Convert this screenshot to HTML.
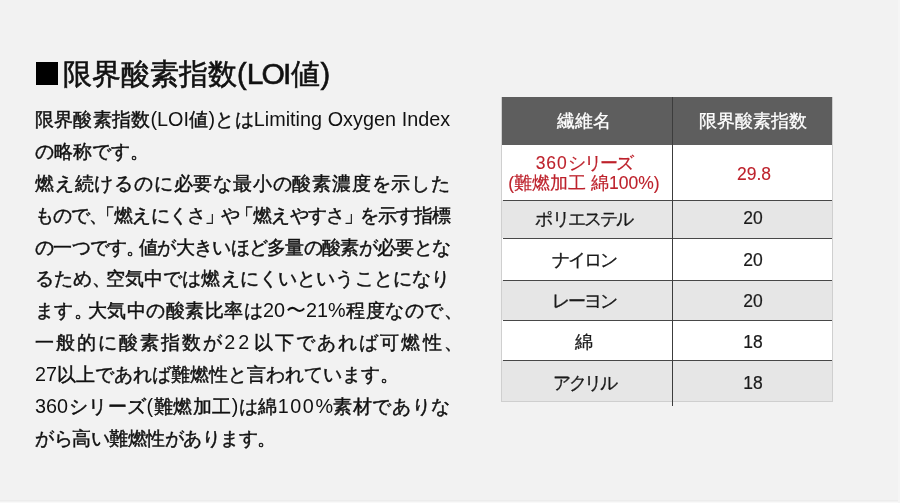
<!DOCTYPE html>
<html lang="ja">
<head>
<meta charset="utf-8">
<style>
*{margin:0;padding:0;box-sizing:border-box}
html,body{width:900px;height:503px;overflow:hidden}
body{background:#f2f2f2;font-family:"Liberation Sans",sans-serif;color:#1a1a1a;position:relative}
.sq{position:absolute;left:36px;top:62px;width:22px;height:23px;background:#000}
.ttl{position:absolute;left:63px;top:59px;font-size:29px;line-height:30px;white-space:nowrap;color:#111}
.txt{position:absolute;left:35px;top:103.5px;width:415px;font-size:19px;line-height:31.9px;color:#111}
.txt div{white-space:nowrap;height:31.9px}
.txt,.ttl,.c{-webkit-text-stroke:.45px currentColor;will-change:transform}
.ttl{-webkit-text-stroke-width:.6px}
.j{text-align:justify;text-align-last:justify}
.lat{font-size:19.8px;-webkit-text-stroke-width:0}
i{font-style:normal}
.r{margin-right:-.5em}
.l{margin-left:-.5em}
.r3{margin-right:-.3em}
.re{margin-right:-.66em}
.r1{margin-right:-.12em}
.l2{margin-left:-.2em}
.l3{margin-left:-.3em}
.tb{position:absolute;left:501px;top:97px;width:332px;height:305px;border-left:1px solid #cfcfcf;border-right:1px solid #cfcfcf;border-bottom:1px solid #cfcfcf}
.hd{position:absolute;left:502px;top:97px;width:330px;height:48px;background:#5e5e5e}
.row{position:absolute;left:502px;width:330px}
.w{background:#fff}.g{background:#e6e6e6}
.hl{position:absolute;left:503px;width:329px;height:1px;background:#484848}
.vl{position:absolute;left:672px;top:97px;width:1px;height:309px;background:#3c3c3c}
.c{position:absolute;font-size:17.5px;line-height:20px;text-align:center;white-space:nowrap;transform:translateX(-50%)}
.hdt{color:#fff}
.c{-webkit-text-stroke-width:.3px}
.n{-webkit-text-stroke-width:.2px}
.red{color:#bd212b;-webkit-text-stroke-width:.2px}
.red .n,.red.n{-webkit-text-stroke-width:.1px}
.hdt{-webkit-text-stroke-width:.3px}
</style>
</head>
<body>
<div style="position:absolute;left:0;top:500px;width:900px;height:1px;background:#ececec"></div>
<div style="position:absolute;left:0;top:502px;width:900px;height:1px;background:#f9f9f9"></div>
<div style="position:absolute;left:898px;top:0;width:2px;height:503px;background:#f5f5f5"></div>
<div class="sq"></div>
<div class="ttl">限界酸素指数(<span style="font-size:30px"><span style="letter-spacing:-1.8px">LO</span>I</span>値)</div>

<div class="txt">
<div class="j">限界酸素指数<span class="lat">(LOI</span>値<span class="lat">)</span>とは<span class="lat">Limiting Oxygen Index</span></div>
<div>の略称です<i class="r">。</i></div>
<div class="j">燃え続けるのに必要な最小の酸素濃度を示した</div>
<div class="j" style="letter-spacing:-1.4px">もので<i class="r3">、</i><i class="l3">「</i>燃えにくさ<i class="r1">」</i>や<i class="l2">「</i>燃えやすさ<i class="r1">」</i>を示す指標</div>
<div class="j" style="letter-spacing:-.8px">の一つです<i class="r3">。</i>値が大きいほど多量の酸素が必要とな</div>
<div class="j">るため<i class="r3">、</i>空気中では燃えにくいということになり</div>
<div class="j">ます<i class="r3">。</i>大気中の酸素比率は<span class="lat">20</span><span class="lat">〜</span><span class="lat">21%</span>程度なので<i class="re">、</i></div>
<div class="j">一般的に酸素指数が<span class="lat" style="letter-spacing:3px">22</span>以下であれば可燃性<i class="re">、</i></div>
<div><span class="lat">27</span>以上であれば難燃性と言われています<i class="r">。</i></div>
<div class="j"><span class="lat">360</span>シリーズ<span class="lat">(</span>難燃加工<span class="lat">)</span>は綿<span class="lat" style="letter-spacing:1.5px">100</span><span class="lat">%</span>素材でありな</div>
<div style="letter-spacing:-.5px">がら高い難燃性があります<i class="r">。</i></div>
</div>

<div class="tb"></div>
<div class="hd"></div>
<div class="row w" style="top:145px;height:56px"></div>
<div class="row g" style="top:200px;height:38px"></div>
<div class="row w" style="top:238px;height:42px"></div>
<div class="row g" style="top:280px;height:41px"></div>
<div class="row w" style="top:320px;height:40px"></div>
<div class="row g" style="top:360px;height:41px"></div>
<div class="hl" style="top:200px"></div>
<div class="hl" style="top:238px"></div>
<div class="hl" style="top:280px"></div>
<div class="hl" style="top:320px"></div>
<div class="hl" style="top:360px"></div>
<div class="vl"></div>

<div class="c hdt" style="left:583.5px;top:111px">繊維名</div>
<div class="c hdt" style="left:753px;top:111px">限界酸素指数</div>
<div class="c red" style="left:583.5px;top:153px"><span class="n" style="letter-spacing:.9px">360</span><span style="letter-spacing:-1.8px">シリーズ</span><br><span class="n">(</span>難燃加工 綿<span class="n">100%)</span></div>
<div class="c red n" style="left:754px;top:164px">29.8</div>
<div class="c" style="left:583.5px;top:209px;letter-spacing:-1.8px">ポリエステル</div>
<div class="c n" style="left:753px;top:208px">20</div>
<div class="c" style="left:583.5px;top:250px;letter-spacing:-2px">ナイロン</div>
<div class="c n" style="left:753px;top:250px">20</div>
<div class="c" style="left:583.5px;top:291px;letter-spacing:-2px">レーヨン</div>
<div class="c n" style="left:753px;top:291px">20</div>
<div class="c" style="left:583.5px;top:332px">綿</div>
<div class="c n" style="left:753px;top:332px">18</div>
<div class="c" style="left:583.5px;top:373px;letter-spacing:-2.5px">アクリル</div>
<div class="c n" style="left:753px;top:373px">18</div>
</body>
</html>
